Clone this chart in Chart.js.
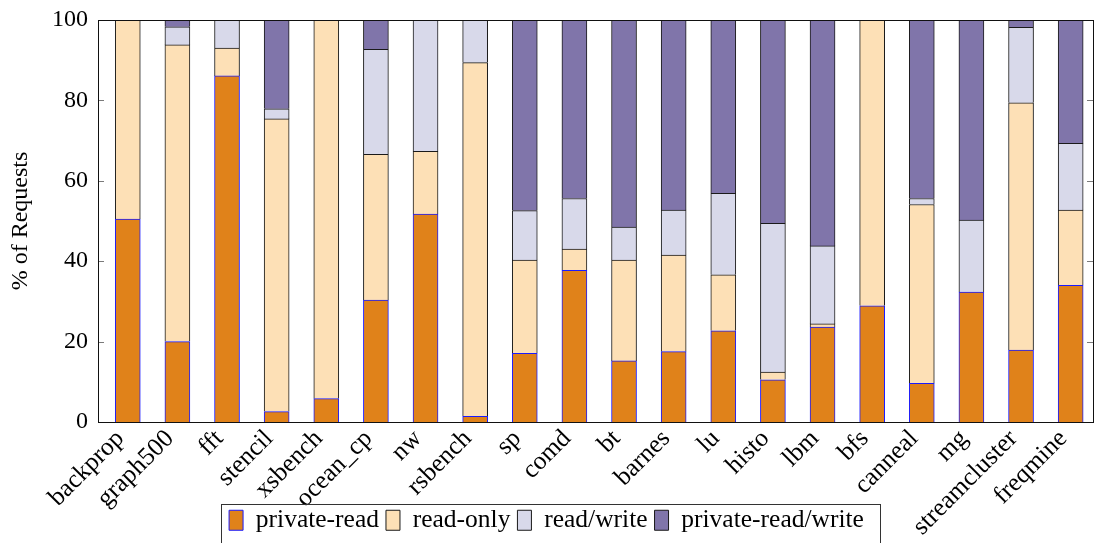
<!DOCTYPE html>
<html>
<head>
<meta charset="utf-8">
<title>Requests by sharing class</title>
<script src="https://cdn.jsdelivr.net/npm/chart.js@4.4.1/dist/chart.umd.min.js"></script>
<style>
  html, body { margin: 0; padding: 0; background: #fff; }
  #wrap { width: 1095px; height: 543px; }
</style>
</head>
<body>
<div id="wrap"><canvas id="requestsChart"></canvas></div>
<script>
// benchmarks along the x axis
const benchmarks = ['backprop', 'graph500', 'fft', 'stencil', 'xsbench', 'ocean_cp', 'nw', 'rsbench', 'sp', 'comd',
    'bt', 'barnes', 'lu', 'histo', 'lbm', 'bfs', 'canneal', 'mg', 'streamcluster', 'freqmine'];

// share of requests (%) per class, stacked bottom to top
const privateRead      = [50.5, 20.0, 86.1,  2.6,  5.8, 30.3, 51.7,  1.4, 17.1, 37.7, 15.2, 17.5, 22.7, 10.5, 23.6, 28.9,  9.6, 32.3, 17.9, 34.0];
const readOnly         = [49.5, 73.8,  6.9, 72.8, 94.2, 36.3, 15.6, 88.0, 23.2,  5.3, 25.1, 24.0, 13.9,  1.9,  0.8, 71.1, 44.5,  0.0, 61.5, 18.7];
const readWrite        = [ 0.0,  4.5,  7.0,  2.5,  0.0, 26.1, 32.7, 10.6, 12.3, 12.6,  8.2, 11.2, 20.3, 37.0, 19.4,  0.0,  1.5, 17.9, 18.8, 16.6];
const privateReadWrite = [ 0.0,  1.7,  0.0, 22.1,  0.0,  7.3,  0.0,  0.0, 47.4, 44.4, 51.5, 47.3, 43.1, 50.6, 56.2,  0.0, 44.4, 49.8,  1.8, 30.7];

const yTicks = [0, 20, 40, 60, 80, 100];

const serif = 'Liberation Serif';
const tickFont = { family: serif, size: 24 };
const nameFont = { family: serif, size: 25.5 };
const legendFont = { family: serif, size: 25.5 };

const plotBottom = 422;   // where the 0% line sits
const bottomPad = 0;
const labelShift = 0.15;  // rotated names end just left of their bar centre

function toPoints(values) {
    return values.map((v, i) => ({ x: i, y: v }));
}

// let the rotated names run down past the axis box, beside the legend
const longLabels = {
    id: 'longLabels',
    afterLayout(chart) {
        chart.scales.x.bottom = chart.height;
    }
};

// plot frame plus inward tick marks on both sides
const axisFrame = {
    id: 'axisFrame',
    afterDraw(chart) {
        const { ctx, chartArea: a, scales } = chart;
        ctx.save();
        ctx.strokeStyle = '#7a7a7a';
        ctx.lineWidth = 1;
        yTicks.forEach(t => {
            const y = Math.round(scales.y.getPixelForValue(t)) + 0.5;
            ctx.beginPath();
            ctx.moveTo(a.left, y);
            ctx.lineTo(a.left + 6, y);
            ctx.moveTo(a.right, y);
            ctx.lineTo(a.right - 6, y);
            ctx.stroke();
        });
        ctx.strokeStyle = '#111';
        ctx.strokeRect(Math.round(a.left) + 0.5, Math.round(a.top) + 0.5,
            Math.round(a.right - a.left), Math.round(a.bottom - a.top));
        ctx.restore();
    }
};

// box around the legend entries
const legendFrame = {
    id: 'legendFrame',
    afterDraw(chart) {
        const boxes = chart.legend.legendHitBoxes;
        if (!boxes || !boxes.length) return;
        const left = Math.min(...boxes.map(b => b.left)) - 8;
        const right = Math.max(...boxes.map(b => b.left + b.width)) + 16;
        const top = Math.min(...boxes.map(b => b.top)) - 4;
        const ctx = chart.ctx;
        ctx.save();
        ctx.strokeStyle = '#333';
        ctx.lineWidth = 1;
        ctx.strokeRect(Math.round(left) + 0.5, Math.round(top) + 0.5, Math.round(right - left), 60);
        ctx.restore();
    }
};

const ctx = document.getElementById('requestsChart').getContext('2d');
new Chart(ctx, {
    type: 'bar',
    data: {
        datasets: [
            {
                label: 'private-read',
                data: toPoints(privateRead),
                backgroundColor: '#e0821a',
                borderColor: '#1a1aff',
                borderWidth: 1
            },
            {
                label: 'read-only',
                data: toPoints(readOnly),
                backgroundColor: '#fde0b6',
                borderColor: '#1a1a1a',
                borderWidth: 1
            },
            {
                label: 'read/write',
                data: toPoints(readWrite),
                backgroundColor: '#d8d9ea',
                borderColor: '#1a1a1a',
                borderWidth: 1
            },
            {
                label: 'private-read/write',
                data: toPoints(privateReadWrite),
                backgroundColor: '#8075aa',
                borderColor: '#1a1a1a',
                borderWidth: 1
            }
        ]
    },
    options: {
        responsive: true,
        maintainAspectRatio: false,
        animation: false,
        devicePixelRatio: 1,
        barThickness: 25,
        layout: { padding: { top: 20, right: 2, left: 0, bottom: bottomPad } },
        plugins: {
            legend: {
                position: 'bottom',
                labels: {
                    boxWidth: 14,
                    boxHeight: 20,
                    padding: 7,
                    color: '#000',
                    font: legendFont
                }
            },
            tooltip: { enabled: false }
        },
        scales: {
            x: {
                type: 'linear',
                stacked: true,
                offset: false,
                min: -0.6,
                max: 19.45,
                grid: { display: false },
                border: { display: false },
                afterBuildTicks: s => {
                    s.ticks = benchmarks.map((b, i) => ({ value: i - labelShift }));
                },
                ticks: {
                    autoSkip: false,
                    maxRotation: 45,
                    minRotation: 45,
                    padding: -6,
                    color: '#000',
                    font: nameFont,
                    callback: v => benchmarks[Math.round(v + labelShift)]
                },
                afterFit: s => {
                    s.height = s.chart.height - plotBottom - s.chart.legend.height - bottomPad;
                }
            },
            y: {
                stacked: true,
                min: 0,
                max: 100,
                grid: { display: false },
                border: { display: false },
                ticks: {
                    stepSize: 20,
                    padding: 2,
                    color: '#000',
                    font: tickFont
                },
                title: {
                    display: true,
                    text: '% of Requests',
                    color: '#000',
                    font: tickFont,
                    padding: { top: 6, bottom: 0 }
                },
                afterFit: s => { s.width = 98; }
            }
        }
    },
    plugins: [longLabels, axisFrame, legendFrame]
});
</script>
</body>
</html>
